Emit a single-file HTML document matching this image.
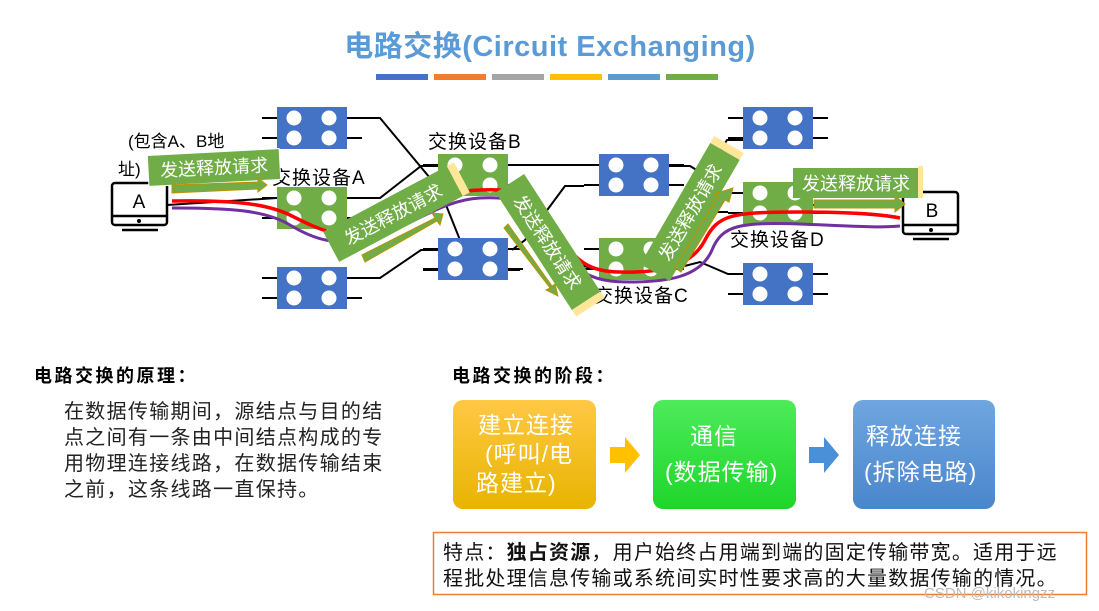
<!DOCTYPE html>
<html><head><meta charset="utf-8"><style>
body{margin:0;background:#fff;width:1099px;height:611px;overflow:hidden;font-family:"Liberation Sans","Noto Sans CJK SC",sans-serif;}
</style></head><body>
<svg width="1099" height="611" viewBox="0 0 1099 611" xmlns="http://www.w3.org/2000/svg" style="position:absolute;left:0;top:0;font-family:'Liberation Sans','Noto Sans CJK SC',sans-serif">
<defs>
<g id="box">
<line x1="-15" y1="11" x2="10" y2="11" stroke="#000" stroke-width="2"/>
<line x1="-15" y1="31" x2="10" y2="31" stroke="#000" stroke-width="2"/>
<line x1="60" y1="11" x2="85" y2="11" stroke="#000" stroke-width="2"/>
<line x1="60" y1="31" x2="85" y2="31" stroke="#000" stroke-width="2"/>
</g>
<g id="dots" fill="#fff"><circle cx="17" cy="11" r="7.5"/><circle cx="17" cy="31" r="7.5"/><circle cx="52" cy="11" r="7.5"/><circle cx="52" cy="31" r="7.5"/></g>
<linearGradient id="og" x1="0" y1="0" x2="0" y2="1"><stop offset="0" stop-color="#FFC845"/><stop offset="1" stop-color="#E8B400"/></linearGradient>
<linearGradient id="gg" x1="0" y1="0" x2="0" y2="1"><stop offset="0" stop-color="#4DEB5A"/><stop offset="1" stop-color="#1ED62A"/></linearGradient>
<linearGradient id="bg" x1="0" y1="0" x2="0" y2="1"><stop offset="0" stop-color="#6FA6E0"/><stop offset="1" stop-color="#4A86CC"/></linearGradient>
</defs>
<text x="550" y="56" text-anchor="middle" font-size="29" fill="#5B9BD5" font-weight="bold" letter-spacing="0.5">电路交换(Circuit Exchanging)</text>
<rect x="376" y="74" width="52" height="6" fill="#4472C4"/>
<rect x="434" y="74" width="52" height="6" fill="#ED7D31"/>
<rect x="492" y="74" width="52" height="6" fill="#A5A5A5"/>
<rect x="550" y="74" width="52" height="6" fill="#FFC000"/>
<rect x="608" y="74" width="52" height="6" fill="#5B9BD5"/>
<rect x="666" y="74" width="52" height="6" fill="#70AD47"/>

<g stroke="#000" stroke-width="2" fill="none">
<polyline points="362,118 380,118 440,190 470,265 490,270 423,270"/>
<polyline points="362,198 380,198 421,166 438,166"/>
<polyline points="362,278 380,278 421,250 438,250"/>
<polyline points="508,165 600,165"/>
<polyline points="584,186 565,186 525,240 512,250"/>
<polyline points="508,186 520,186 580,265 599,270"/>
<polyline points="669,166 690,166 705,175 727,140 743,140"/>
<polyline points="669,250 700,212 728,212"/>
<polyline points="508,270 520,270"/>
<polyline points="669,270 700,262 728,274 743,274"/>
<polyline points="800,205 820,205 903,205"/>
<line x1="167" y1="205" x2="277" y2="198"/>
</g>
<g transform="translate(277,107)"><use href="#box"/><rect width="70" height="42" fill="#4472C4"/><use href="#dots"/></g>
<g transform="translate(277,187)"><use href="#box"/><rect width="70" height="42" fill="#70AD47"/><use href="#dots"/></g>
<g transform="translate(277,267)"><use href="#box"/><rect width="70" height="42" fill="#4472C4"/><use href="#dots"/></g>
<g transform="translate(438,154)"><use href="#box"/><rect width="70" height="42" fill="#70AD47"/><use href="#dots"/></g>
<g transform="translate(438,238)"><use href="#box"/><rect width="70" height="42" fill="#4472C4"/><use href="#dots"/></g>
<g transform="translate(599,154)"><use href="#box"/><rect width="70" height="42" fill="#4472C4"/><use href="#dots"/></g>
<g transform="translate(599,238)"><use href="#box"/><rect width="70" height="42" fill="#70AD47"/><use href="#dots"/></g>
<g transform="translate(743,107)"><use href="#box"/><rect width="70" height="42" fill="#4472C4"/><use href="#dots"/></g>
<g transform="translate(743,182)"><use href="#box"/><rect width="70" height="42" fill="#70AD47"/><use href="#dots"/></g>
<g transform="translate(743,263)"><use href="#box"/><rect width="70" height="42" fill="#4472C4"/><use href="#dots"/></g>

<g fill="none" stroke="#000" stroke-width="2.5">
<rect x="112" y="183" width="55" height="42" rx="3"/>
<line x1="112" y1="216" x2="167" y2="216"/>
<line x1="122" y1="230" x2="158" y2="230"/>
<rect x="903" y="192" width="55" height="42" rx="3"/>
<line x1="903" y1="225" x2="958" y2="225"/>
<line x1="913" y1="239" x2="949" y2="239"/>
</g>
<circle cx="139" cy="221" r="2" fill="#000"/><circle cx="931" cy="230" r="2" fill="#000"/>
<text x="139" y="208" text-anchor="middle" font-size="19">A</text>
<text x="932" y="217" text-anchor="middle" font-size="19">B</text>

<path d="M172,201 C230,200 265,203 290,215 C320,230 335,238 370,232 C410,225 440,190 480,190 C520,188 530,195 555,230 C575,262 590,272 620,272 C650,273 690,270 705,240 C718,215 730,212 800,212 C850,212 880,214 900,218" stroke="#FF0000" stroke-width="3.5" fill="none"/>
<path d="M172,208 C230,208 265,210 290,225 C315,240 335,246 370,238 C410,228 440,200 480,198 C520,196 535,205 555,240 C575,275 595,282 630,282 C665,282 700,278 712,250 C722,225 740,222 800,224 C850,226 880,228 900,226" stroke="#7030A0" stroke-width="3" fill="none"/>

<g font-size="19" fill="#000" letter-spacing="1">
<text x="272" y="184">交换设备A</text>
<text x="428" y="148">交换设备B</text>
<text x="594" y="302">交换设备C</text>
<text x="730" y="246">交换设备D</text>
<text x="128" y="147" font-size="17" letter-spacing="0">(包含A、B地</text>
<text x="118" y="175" font-size="17" letter-spacing="0">址)</text>
</g>

<g font-size="18" fill="#fff">
<g transform="rotate(-3 214 167)"><rect x="148" y="152" width="132" height="31" fill="#70AD47" stroke="#fff" stroke-width="1"/><text x="214" y="174" text-anchor="middle">发送释放请求</text></g>
<polygon points="172,185 258,182 258,178 267,185 258,192 258,189 172,193" fill="#70AD47" stroke="#C09000" stroke-width="1"/>
<g transform="rotate(-28 393 214)"><rect x="323" y="197" width="140" height="34" fill="#70AD47"/><rect x="463" y="197" width="8" height="34" fill="#FFE699"/><text x="393" y="221" text-anchor="middle">发送释放请求</text></g>
<polygon points="362,255 435,218 432,213 443,214 440,225 437,221 365,262" fill="#70AD47" stroke="#C09000" stroke-width="1"/>
<g transform="rotate(57 548 242)"><rect x="478" y="225" width="140" height="34" fill="#70AD47"/><rect x="618" y="225" width="8" height="34" fill="#FFE699"/><text x="548" y="249" text-anchor="middle">发送释放请求</text></g>
<polygon points="504,228 550,288 546,290 558,296 555,284 552,286 508,224" fill="#70AD47" stroke="#C09000" stroke-width="1"/>
<g transform="rotate(-60 690 212)"><rect x="620" y="195" width="140" height="34" fill="#70AD47"/><rect x="760" y="195" width="8" height="34" fill="#FFE699"/><text x="690" y="219" text-anchor="middle">发送释放请求</text></g>
<polygon points="675,268 718,196 714,194 733,188 729,202 725,200 681,272" fill="#70AD47" stroke="#C09000" stroke-width="1"/>
<rect x="793" y="168" width="125" height="30" fill="#70AD47"/><rect x="918" y="166" width="5" height="32" fill="#FFE699"/>
<text x="856" y="190" text-anchor="middle">发送释放请求</text>
<polygon points="814,200 895,200 895,196 905,204 895,212 895,208 814,208" fill="#70AD47" stroke="#C09000" stroke-width="1"/>
</g>

<text x="34" y="382" font-size="18" font-weight="bold" letter-spacing="2.5">电路交换的原理：</text>
<g font-size="20" fill="#222" letter-spacing="1.3">
<text x="64" y="418">在数据传输期间，源结点与目的结</text>
<text x="64" y="444">点之间有一条由中间结点构成的专</text>
<text x="64" y="470">用物理连接线路，在数据传输结束</text>
<text x="64" y="496">之前，这条线路一直保持。</text>
</g>
<text x="452" y="382" font-size="18" font-weight="bold" letter-spacing="2.5">电路交换的阶段：</text>

<rect x="453" y="400" width="143" height="109" rx="10" fill="url(#og)"/>
<rect x="653" y="400" width="143" height="109" rx="10" fill="url(#gg)"/>
<rect x="853" y="400" width="142" height="109" rx="10" fill="url(#bg)"/>
<g font-size="23" fill="#fff" letter-spacing="1">
<text x="478" y="433">建立连接</text>
<text x="485" y="462">(呼叫/电</text>
<text x="476" y="491">路建立)</text>
<text x="690" y="444">通信</text>
<text x="665" y="480">(数据传输)</text>
<text x="866" y="444">释放连接</text>
<text x="864" y="480">(拆除电路)</text>
</g>
<polygon points="610,447 625,447 625,437 640,455 625,473 625,463 610,463" fill="#FFC000"/>
<polygon points="809,447 824,447 824,437 839,455 824,473 824,463 809,463" fill="#4A90D9"/>

<rect x="433.5" y="532.5" width="653" height="62" fill="#fff" stroke="#ED7D31" stroke-width="1.5"/>
<g font-size="20" fill="#111" letter-spacing="1.2">
<text x="443" y="559">特点：<tspan font-weight="bold">独占资源</tspan>，用户始终占用端到端的固定传输带宽。适用于远</text>
<text x="443" y="585">程批处理信息传输或系统间实时性要求高的大量数据传输的情况。</text>
</g>
<text x="924" y="598" font-size="15" fill="#bbb">CSDN @kikokingzz</text>
</svg>
</body></html>
